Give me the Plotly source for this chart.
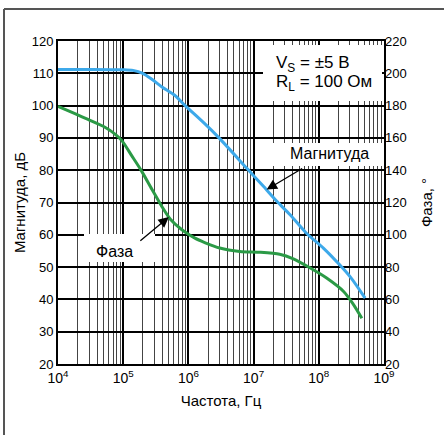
import plotly.graph_objects as go

# Magnitude (dB) vs log10(frequency)
mag_logf = [4.0, 4.5, 5.0, 5.15, 5.3, 5.45, 5.6, 5.79, 5.95, 6.25, 6.47, 6.9, 7.15, 7.36, 7.56, 7.81, 8.07, 8.32, 8.5, 8.71]
mag_db = [111.2, 111.2, 111.1, 110.9, 110.0, 108.0, 105.7, 103.2, 100.0, 94.4, 90.0, 80.5, 75.0, 70.3, 66.2, 60.5, 55.9, 50.7, 46.5, 40.4]

# Phase (deg) vs log10(frequency)
ph_logf = [4.0, 4.26, 4.46, 4.72, 4.87, 4.98, 5.13, 5.28, 5.44, 5.59, 5.72, 5.90, 6.10, 6.25, 6.48, 6.79, 7.10, 7.40, 7.61, 7.87, 8.12, 8.38, 8.52, 8.66]
ph_deg = [179.6, 175, 171.4, 166.6, 162.5, 158.3, 149, 139.6, 128.2, 117.7, 109.8, 103.1, 97.9, 95.2, 91.8, 89.7, 89.2, 88, 85.1, 79.4, 73.2, 64.9, 57.5, 48.3]

x_tickvals = [1e4, 1e5, 1e6, 1e7, 1e8, 1e9]
x_ticktext = ["10<sup>4</sup>", "10<sup>5</sup>", "10<sup>6</sup>", "10<sup>7</sup>", "10<sup>8</sup>", "10<sup>9</sup>"]
left_ticks = [20, 30, 40, 50, 60, 70, 80, 90, 100, 110, 120]
right_ticks = [20, 40, 60, 80, 100, 120, 140, 160, 180, 200, 220]

FONT = "Liberation Sans, Arial, sans-serif"

fig = go.Figure()
fig.add_trace(go.Scatter(x=[10 ** v for v in mag_logf], y=mag_db, mode="lines",
                         line=dict(color="#3DA9EA", width=3, shape="spline", smoothing=0.7),
                         yaxis="y", showlegend=False))
fig.add_trace(go.Scatter(x=[10 ** v for v in ph_logf], y=ph_deg, mode="lines",
                         line=dict(color="#2B9A46", width=3, shape="spline", smoothing=0.7),
                         yaxis="y2", showlegend=False))

fig.update_layout(
    width=444, height=435,
    margin=dict(l=58, r=60, t=41, b=71),
    paper_bgcolor="white", plot_bgcolor="white",
    font=dict(family=FONT, size=13, color="black"),
    xaxis=dict(type="log", range=[4, 9], tickvals=x_tickvals, ticktext=x_ticktext,
               showgrid=True, gridcolor="black", gridwidth=1.5,
               minor=dict(showgrid=True, gridcolor="#444", gridwidth=1.2, ticks="", dtick="D1"),
               showline=True, linecolor="black", linewidth=2, mirror=True,
               ticks="", zeroline=False,
               title=dict(text="Частота, Гц", font=dict(size=15), standoff=11),
               tickfont=dict(size=14)),
    yaxis=dict(range=[20, 120], tickvals=left_ticks, showgrid=True, gridcolor="black", gridwidth=1.5,
               showline=True, linecolor="black", linewidth=2, mirror=True, ticks="", zeroline=False,
               title=dict(text="Магнитуда, дБ", font=dict(size=15), standoff=2)),
    yaxis2=dict(range=[20, 220], tickvals=right_ticks, overlaying="y", side="right",
                showgrid=False, ticks="", zeroline=False,
                title=dict(text="Фаза, °", font=dict(size=15), standoff=15)),
)

def px_to_paper_x(px):
    return (px - 58) / 326.0

def px_to_paper_y(py):
    return (364 - py) / 323.0

# white label boxes
boxes = [(263, 45, 382, 101), (272, 143, 382, 166), (84, 234, 155, 262)]
for x0, y0, x1, y1 in boxes:
    fig.add_shape(type="rect", xref="paper", yref="paper",
                  x0=px_to_paper_x(x0), x1=px_to_paper_x(x1),
                  y0=px_to_paper_y(y1), y1=px_to_paper_y(y0),
                  fillcolor="white", line=dict(width=0), layer="above")

# outer frame (top and left)
fig.add_shape(type="line", xref="paper", yref="paper", x0=px_to_paper_x(4), x1=px_to_paper_x(460),
              y0=px_to_paper_y(9), y1=px_to_paper_y(9), line=dict(color="#555", width=2))
fig.add_shape(type="line", xref="paper", yref="paper", x0=px_to_paper_x(4), x1=px_to_paper_x(4),
              y0=px_to_paper_y(9), y1=px_to_paper_y(460), line=dict(color="#555", width=2))

# condition text
fig.add_annotation(xref="paper", yref="paper", x=px_to_paper_x(274), y=px_to_paper_y(64),
                   xanchor="left", yanchor="middle", showarrow=False,
                   text="V<sub>S</sub> = ±5 В", font=dict(size=17))
fig.add_annotation(xref="paper", yref="paper", x=px_to_paper_x(274), y=px_to_paper_y(83),
                   xanchor="left", yanchor="middle", showarrow=False,
                   text="R<sub>L</sub> = 100 Ом", font=dict(size=17))

# Magnitude label with arrow
fig.add_annotation(xref="paper", yref="paper", x=px_to_paper_x(329), y=px_to_paper_y(153),
                   xanchor="center", yanchor="middle",
                   showarrow=False, text="Магнитуда", font=dict(size=16))
fig.add_annotation(x=7.2, y=74.0, xref="x", yref="y", ax=37, ay=-22,
                   showarrow=True, arrowhead=2, arrowsize=1.6, arrowwidth=1.3, arrowcolor="black", text="")

# Phase label with arrow
fig.add_annotation(xref="paper", yref="paper", x=px_to_paper_x(114), y=px_to_paper_y(251),
                   xanchor="center", yanchor="middle",
                   showarrow=False, text="Фаза", font=dict(size=16))
fig.add_annotation(x=5.70, y=111, xref="x", yref="y2", ax=-30, ay=25,
                   showarrow=True, arrowhead=2, arrowsize=1.6, arrowwidth=1.3, arrowcolor="black", text="")

fig.write_html("out.html")
